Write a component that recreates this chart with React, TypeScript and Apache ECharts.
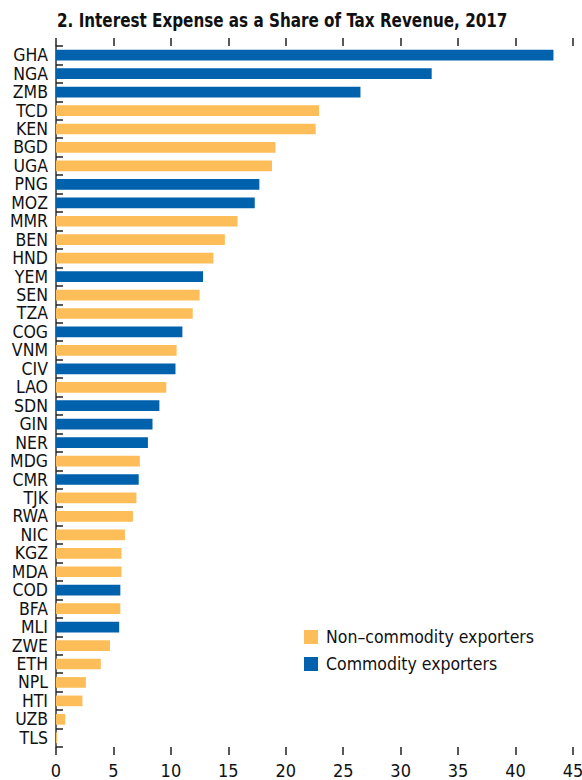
import React, { useEffect, useRef } from "react";
import * as echarts from "echarts";

const categories = ["GHA","NGA","ZMB","TCD","KEN","BGD","UGA","PNG","MOZ","MMR","BEN","HND","YEM","SEN","TZA","COG","VNM","CIV","LAO","SDN","GIN","NER","MDG","CMR","TJK","RWA","NIC","KGZ","MDA","COD","BFA","MLI","ZWE","ETH","NPL","HTI","UZB","TLS"];
const values = [43.3,32.7,26.5,22.9,22.6,19.1,18.8,17.7,17.3,15.8,14.7,13.7,12.8,12.5,11.9,11.0,10.5,10.4,9.6,9.0,8.4,8.0,7.3,7.2,7.0,6.7,6.0,5.7,5.7,5.6,5.6,5.5,4.7,3.9,2.6,2.3,0.8,0.1];
// 1 = commodity exporter, 0 = non-commodity exporter
const commodity = [1,1,1,0,0,0,0,1,1,0,0,0,1,0,0,1,0,1,0,1,1,1,0,1,0,0,0,0,0,1,0,1,0,0,0,0,0,0];
const xTicks = [0, 5, 10, 15, 20, 25, 30, 35, 40, 45];

const TITLE = "2. Interest Expense as a Share of Tax Revenue, 2017";
const NAME_NON = "Non\u2013commodity exporters";
const NAME_COM = "Commodity exporters";

const BLUE = "#0061AC";
const ORANGE = "#FDBE59";
const FONT = "'DejaVu Sans Condensed', 'Liberation Sans Narrow', sans-serif";

export default function App() {
  const ref = useRef<HTMLDivElement>(null);
  useEffect(() => {
    if (!ref.current) return;
    const chart = echarts.init(ref.current, null, { renderer: "svg" });
    const nonData = values.map((v, i) => (commodity[i] ? "-" : v));
    const comData = values.map((v, i) => (commodity[i] ? v : "-"));
    const xAxisBase = {
      type: "value",
      min: xTicks[0],
      max: xTicks[xTicks.length - 1],
      interval: 5,
      splitLine: { show: false },
      axisLine: { show: false },
      axisTick: { show: true, inside: false, length: 8, lineStyle: { color: "#222", width: 1.5 } },
    };
    chart.setOption({
      animation: false,
      textStyle: { fontFamily: FONT },
      graphic: [
        {
          type: "text",
          x: 57,
          y: 10,
          scaleX: 0.845,
          style: {
            text: TITLE,
            fontFamily: FONT,
            fontWeight: "bold",
            fontSize: 20,
            fill: "#111",
          },
        },
      ],
      legend: {
        orient: "vertical",
        left: 299,
        top: 623,
        itemWidth: 14,
        itemHeight: 14,
        itemGap: 9,
        icon: "rect",
        data: [NAME_NON, NAME_COM],
        textStyle: { fontFamily: FONT, fontSize: 17.5, color: "#111", padding: [0, 0, 0, 3] },
      },
      grid: { left: 56, right: 9, top: 46, bottom: 33, outerBoundsMode: "none", containLabel: false },
      xAxis: [
        {
          ...xAxisBase,
          position: "bottom",
          axisLabel: { show: true, fontFamily: FONT, fontSize: 18, color: "#111", margin: 14 },
        },
        {
          ...xAxisBase,
          position: "top",
          axisLabel: { show: false },
        },
      ],
      yAxis: {
        type: "category",
        inverse: true,
        data: categories,
        axisLine: { show: true, lineStyle: { color: "#333", width: 1.5 } },
        axisTick: { show: true, inside: true, length: 7, interval: 0, lineStyle: { color: "#222", width: 1.5 } },
        axisLabel: { interval: 0, fontFamily: FONT, fontSize: 17.5, color: "#111", margin: 8 },
      },
      series: [
        {
          name: NAME_NON,
          type: "bar",
          stack: "all",
          xAxisIndex: 0,
          data: nonData,
          barWidth: "58%",
          itemStyle: { color: ORANGE },
        },
        {
          name: NAME_COM,
          type: "bar",
          stack: "all",
          xAxisIndex: 0,
          data: comData,
          barWidth: "58%",
          itemStyle: { color: BLUE },
        },
      ],
    });
    return () => chart.dispose();
  }, []);
  return (
    <div
      ref={ref}
      style={{ position: "fixed", left: 0, top: 0, width: 582, height: 780, background: "#fff" }}
    />
  );
}
